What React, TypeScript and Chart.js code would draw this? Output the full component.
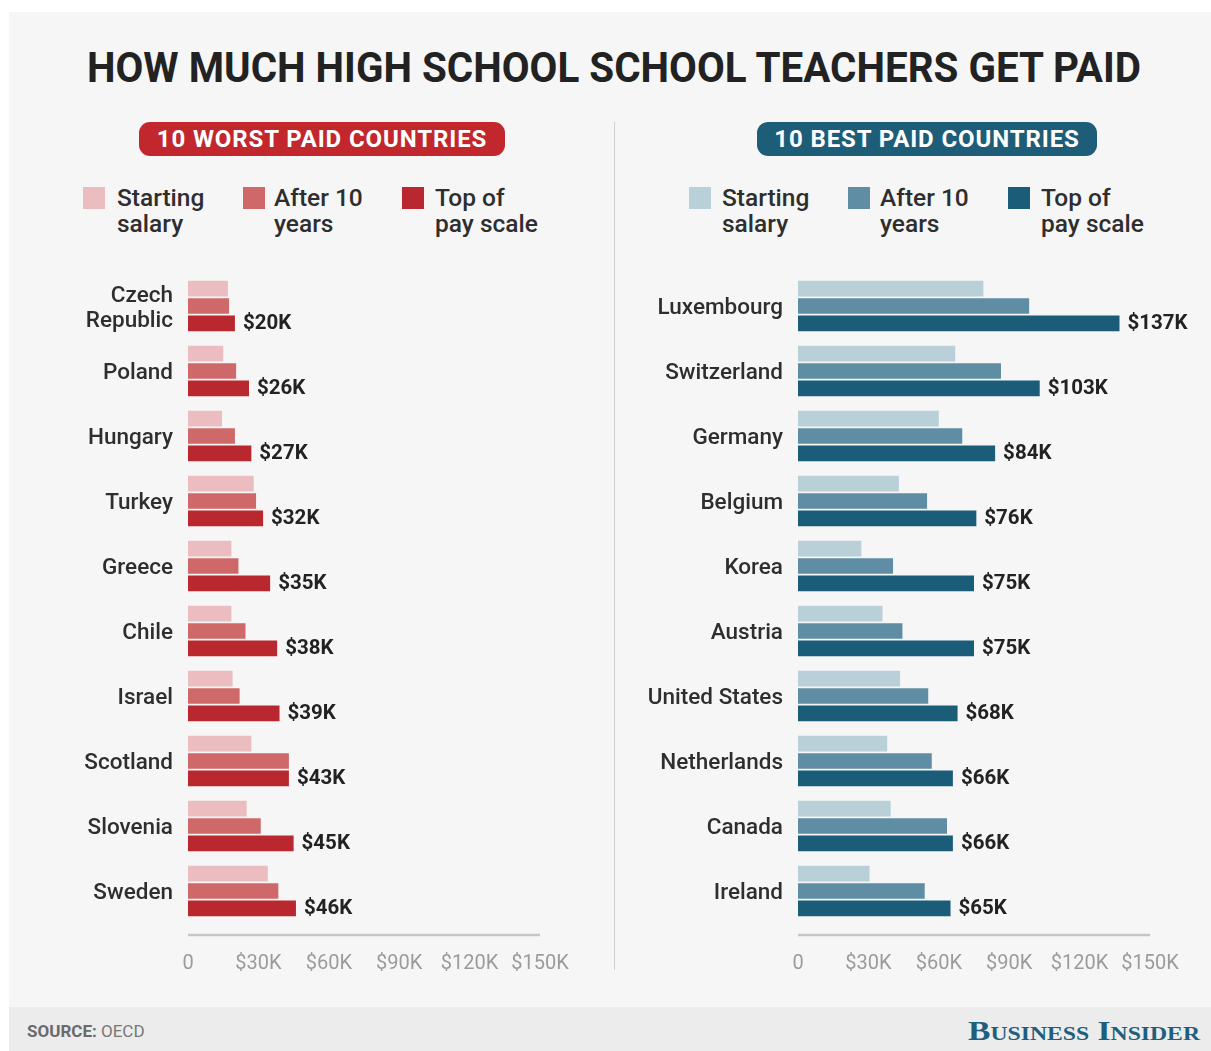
import React, { useEffect, useLayoutEffect, useRef, useState } from 'react';
import { Chart, registerables } from 'chart.js';

Chart.register(...registerables);

const FONT = 'Roboto, "Noto Sans", "DejaVu Sans", sans-serif';

// ---- data (thousands of US$) ----
const worstCountries: (string | string[])[] = [
  ['Czech', 'Republic'], 'Poland', 'Hungary', 'Turkey', 'Greece',
  'Chile', 'Israel', 'Scotland', 'Slovenia', 'Sweden',
];
const worstStarting = [17, 15, 14.5, 28, 18.5, 18.5, 19, 27, 25, 34];
const worstAfter10 = [17.5, 20.5, 20, 29, 21.5, 24.5, 22, 43, 31, 38.5];
const worstTop = [20, 26, 27, 32, 35, 38, 39, 43, 45, 46];

const bestCountries: string[] = [
  'Luxembourg', 'Switzerland', 'Germany', 'Belgium', 'Korea',
  'Austria', 'United States', 'Netherlands', 'Canada', 'Ireland',
];
const bestStarting = [79, 67, 60, 43, 27, 36, 43.5, 38, 39.5, 30.5];
const bestAfter10 = [98.5, 86.5, 70, 55, 40.5, 44.5, 55.5, 57, 63.5, 54];
const bestTop = [137, 103, 84, 76, 75, 75, 68, 66, 66, 65];

const seriesNames = ['Starting salary', 'After 10 years', 'Top of pay scale'];
const legendLines = [['Starting', 'salary'], ['After 10', 'years'], ['Top of', 'pay scale']];
const xTicks = [0, 30, 60, 90, 120, 150];

const RED = ['#ebbdc0', '#cf6869', '#b8282e'];
const BLUE = ['#b9d0d9', '#5f8ea4', '#1b5c79'];

const axisLinePlugin = {
  id: 'axisLine',
  afterDraw(chart: any) {
    const { ctx, chartArea, scales } = chart;
    const x0 = scales.x.getPixelForValue(xTicks[0]);
    const x1 = scales.x.getPixelForValue(xTicks[xTicks.length - 1]);
    const y = chartArea.bottom + 11.5;
    ctx.save();
    ctx.strokeStyle = '#c6c6c6';
    ctx.lineWidth = 2.5;
    ctx.beginPath();
    ctx.moveTo(x0, y);
    ctx.lineTo(x1, y);
    ctx.stroke();
    ctx.restore();
  },
};

function valueLabelPlugin(values: number[]) {
  return {
    id: 'valueLabels',
    afterDatasetsDraw(chart: any) {
      const { ctx } = chart;
      const meta = chart.getDatasetMeta(2);
      ctx.save();
      ctx.fillStyle = '#222';
      ctx.font = `700 20.5px ${FONT}`;
      ctx.textAlign = 'left';
      ctx.textBaseline = 'middle';
      meta.data.forEach((bar: any, i: number) => {
        ctx.fillText(`$${values[i]}K`, bar.x + 8, bar.y + 1);
      });
      ctx.restore();
    },
  };
}

function makeChart(
  canvas: HTMLCanvasElement,
  labels: (string | string[])[],
  series: number[][],
  colors: string[],
  yWidth: number,
  padRight: number,
) {
  return new Chart(canvas, {
    type: 'bar',
    data: {
      labels,
      datasets: series.map((d, i) => ({
        label: seriesNames[i],
        data: d,
        backgroundColor: colors[i],
        borderWidth: 0,
        categoryPercentage: 0.8,
        barPercentage: 0.9,
      })),
    },
    options: {
      indexAxis: 'y',
      responsive: false,
      maintainAspectRatio: false,
      animation: false,
      events: [],
      layout: { padding: { top: 13.5, right: padRight, left: 0, bottom: 0 } },
      plugins: { legend: { display: false }, tooltip: { enabled: false } },
      scales: {
        x: {
          type: 'linear',
          min: xTicks[0],
          max: xTicks[xTicks.length - 1],
          position: 'bottom',
          grid: { display: false, drawTicks: false },
          border: { display: false },
          afterBuildTicks: (s: any) => {
            s.ticks = xTicks.map((v) => ({ value: v }));
          },
          ticks: {
            padding: 28,
            color: '#9b9b9b',
            autoSkip: false,
            maxRotation: 0,
            font: { family: FONT, size: 20 },
            callback: (v: any) => (Number(v) === 0 ? '0' : `$${v}K`),
          },
          afterFit: (s: any) => {
            s.height = 56.5;
          },
        },
        y: {
          grid: { display: false, drawTicks: false },
          border: { display: false },
          ticks: {
            padding: 15,
            labelOffset: 2.5,
            color: '#2e2e2e',
            autoSkip: false,
            font: { family: FONT, size: 22.5, weight: '500', lineHeight: 1.12 },
          },
          afterFit: (s: any) => {
            s.width = yWidth;
            s.paddingTop = 0;
            s.paddingBottom = 0;
          },
        },
      },
    },
    plugins: [axisLinePlugin, valueLabelPlugin(series[2])],
  } as any);
}

function FitText(props: { text: React.ReactNode; width: number; style: React.CSSProperties; left: number; top: number }) {
  const ref = useRef<HTMLSpanElement>(null);
  const [scale, setScale] = useState(1);
  useLayoutEffect(() => {
    if (ref.current) {
      const w = ref.current.getBoundingClientRect().width;
      if (w > 0) setScale(props.width / w);
    }
  }, []);
  return (
    <div style={{ position: 'absolute', left: props.left, top: props.top, whiteSpace: 'nowrap' }}>
      <span
        ref={ref}
        style={{ display: 'inline-block', transformOrigin: 'left top', transform: `scaleX(${scale})`, ...props.style }}
      >
        {props.text}
      </span>
    </div>
  );
}

function Legend(props: { colors: string[]; squares: number[]; texts: number[] }) {
  return (
    <>
      {props.colors.map((c, i) => (
        <React.Fragment key={i}>
          <div style={{ position: 'absolute', left: props.squares[i], top: 187, width: 22, height: 22, background: c }} />
          <div
            style={{
              position: 'absolute',
              left: props.texts[i],
              top: 185,
              fontFamily: FONT,
              fontWeight: 500,
              fontSize: 24.5,
              lineHeight: '26px',
              color: '#2e2e2e',
              whiteSpace: 'nowrap',
            }}
          >
            {legendLines[i][0]}
            <br />
            {legendLines[i][1]}
          </div>
        </React.Fragment>
      ))}
    </>
  );
}

function Pill(props: { text: string; left: number; width: number; color: string }) {
  return (
    <div
      style={{
        position: 'absolute',
        left: props.left,
        top: 122,
        width: props.width,
        height: 34,
        borderRadius: 11,
        background: props.color,
        color: '#fff',
        fontFamily: FONT,
        fontWeight: 700,
        fontSize: 24,
        letterSpacing: '0.9px',
        lineHeight: '35px',
        textAlign: 'center',
        whiteSpace: 'nowrap',
      }}
    >
      {props.text}
    </div>
  );
}

export default function App() {
  const leftRef = useRef<HTMLCanvasElement>(null);
  const rightRef = useRef<HTMLCanvasElement>(null);

  useEffect(() => {
    const c1 = makeChart(leftRef.current!, worstCountries, [worstStarting, worstAfter10, worstTop], RED, 128, 70);
    const c2 = makeChart(rightRef.current!, bestCountries, [bestStarting, bestAfter10, bestTop], BLUE, 178, 61);
    return () => {
      c1.destroy();
      c2.destroy();
    };
  }, []);

  return (
    <div style={{ position: 'absolute', left: 0, top: 0, width: 1211, height: 1051, overflow: 'hidden', background: '#fff' }}>
      <div style={{ position: 'absolute', left: 9, top: 12, width: 1202, height: 1039, background: '#f6f6f6' }} />
      <div style={{ position: 'absolute', left: 9, top: 1007, width: 1202, height: 44, background: '#ececec' }} />

      <FitText
        left={87}
        top={47}
        width={1054}
        text="HOW MUCH HIGH SCHOOL SCHOOL TEACHERS GET PAID"
        style={{ fontFamily: FONT, fontWeight: 700, fontSize: 42, lineHeight: '42px', color: '#222' }}
      />

      <Pill text="10 WORST PAID COUNTRIES" left={139} width={366} color="#c1272d" />
      <Pill text="10 BEST PAID COUNTRIES" left={757} width={340} color="#1d5d78" />

      <Legend colors={RED} squares={[83, 243, 402]} texts={[117, 274, 435]} />
      <Legend colors={BLUE} squares={[689, 848, 1008]} texts={[722, 880, 1041]} />

      <div style={{ position: 'absolute', left: 614, top: 122, width: 1, height: 848, background: '#cfcfcf' }} />

      <canvas ref={leftRef} width={550} height={720} style={{ position: 'absolute', left: 60, top: 260, width: 550, height: 720 }} />
      <canvas ref={rightRef} width={591} height={720} style={{ position: 'absolute', left: 620, top: 260, width: 591, height: 720 }} />

      <div
        style={{
          position: 'absolute',
          left: 27,
          top: 1021,
          fontFamily: FONT,
          fontSize: 17,
          lineHeight: '20px',
          color: '#777',
          whiteSpace: 'nowrap',
        }}
      >
        <span style={{ fontWeight: 700, color: '#6a6a6a' }}>SOURCE:</span> OECD
      </div>

      <FitText
        left={968}
        top={1016}
        width={232}
        text="Business Insider"
        style={{
          fontFamily: '"Liberation Serif", "DejaVu Serif", serif',
          fontWeight: 700,
          fontVariant: 'small-caps',
          fontSize: 27,
          lineHeight: '30px',
          color: '#1f5f7e',
        }}
      />
    </div>
  );
}
